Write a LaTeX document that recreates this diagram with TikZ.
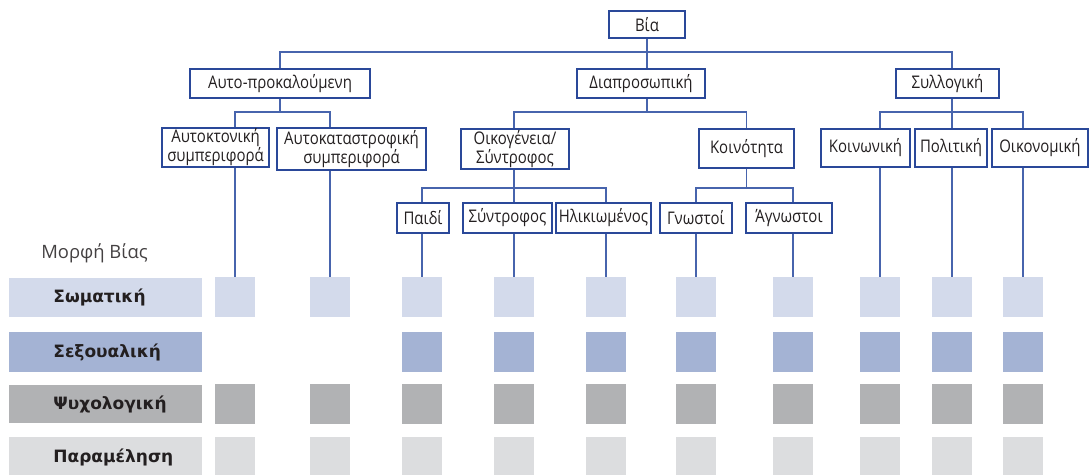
\documentclass[tikz,border=0pt]{standalone}
\usepackage{fontspec}
\setmainfont{Open Sans}[FakeStretch=0.86]
\newfontfamily\formfont{Open Sans}
\newfontfamily\rowfont{DejaVu Sans}

\begin{document}
\begin{tikzpicture}[x=0.5pt,y=-0.5pt,font=\fontsize{8.7}{9.5}\selectfont,
  box/.style={draw=boxline,line width=.7pt,fill=white,text=ink,inner xsep=1pt,inner ysep=0pt,align=center},
  link/.style={draw=stem,line width=.7pt},
  cell/.style={minimum width=20pt,minimum height=20pt,inner sep=0pt},
  bar/.style={minimum width=96.5pt,minimum height=20pt,inner sep=0pt},
  rowlab/.style={anchor=west,inner sep=0pt,text=ink,font=\rowfont\bfseries\fontsize{8.5}{10}\selectfont}]
\definecolor{ink}{HTML}{231F20}\definecolor{boxline}{HTML}{2A4899}
\definecolor{stem}{HTML}{4764AD}\definecolor{phys}{HTML}{D3DAEB}
\definecolor{sex}{HTML}{A4B3D4}\definecolor{psy}{HTML}{B1B2B4}
\definecolor{negl}{HTML}{DCDDDF}
\useasboundingbox (0,0) rectangle (1089,475);
\coordinate (bus0) at (0,52);
\coordinate (bus1) at (0,112);
\coordinate (bus2) at (0,188);
\foreach \i/\x in {1/235,2/330,3/422,4/514,5/606,6/696,7/793,8/880,9/952,10/1023}{
  \node[cell,fill=phys] (phys\i) at (\x,297.5) {};
  \node[cell,fill=psy] (psy\i) at (\x,404) {};
  \node[cell,fill=negl] (negl\i) at (\x,457.5) {};
}
\foreach \i/\x in {3/422,4/514,5/606,6/696,7/793,8/880,9/952,10/1023}
  \node[cell,fill=sex] (sex\i) at (\x,352) {};
\node[bar,fill=phys,minimum height=19.5pt] (physbar) at (105.5,297.5) {};
\node[bar,fill=sex] (sexbar) at (105.5,352) {};
\node[bar,fill=psy,minimum height=19pt] (psybar) at (105.5,404) {};
\node[bar,fill=negl] (neglbar) at (105.5,457.5) {};
\node[rowlab] (physlab) at (53,297.5) {Σωματική};
\node[rowlab] (sexlab) at (53,352) {Σεξουαλική};
\node[rowlab] (psylab) at (53,404) {Ψυχολογική};
\node[rowlab] (negllab) at (53,457.5) {Παραμέληση};
\node[text=ink!85,font=\formfont\fontsize{9.2}{11}\selectfont] (formlab) at (94.5,253) {Μορφή Βίας};
\node[box,minimum width=38pt,minimum height=13.5pt] (bia) at (647,24.5) {Βία};
\node[box,minimum width=90pt,minimum height=14.5pt] (self) at (280,83.5) {Αυτο-προκαλούμενη};
\node[box,minimum width=64pt,minimum height=14.5pt] (inter) at (641,83.5) {Διαπροσωπική};
\node[box,minimum width=51.5pt,minimum height=14.5pt] (coll) at (947.5,83.5) {Συλλογική};
\node[box,minimum width=53.5pt,minimum height=19.5pt] (kA) at (215.5,147.5) {Αυτοκτονική\\συμπεριφορά};
\node[box,minimum width=74.5pt,minimum height=21pt] (kB) at (351.5,149) {Αυτοκαταστροφική\\συμπεριφορά};
\node[box,minimum width=54pt,minimum height=20pt] (fam) at (515,149) {Οικογένεια/\\Σύντροφος};
\node[box,minimum width=47.5pt,minimum height=19.5pt] (com) at (746.5,148.5) {Κοινότητα};
\node[box,minimum width=44.5pt,minimum height=19pt] (soc) at (865.5,148) {Κοινωνική};
\node[box,minimum width=36pt,minimum height=19pt] (pol) at (951,148) {Πολιτική};
\node[box,minimum width=48pt,minimum height=19pt] (eco) at (1040,148) {Οικονομική};
\node[box,minimum width=26pt,minimum height=15pt] (child) at (423,218) {Παιδί};
\node[box,minimum width=44.5pt,minimum height=15pt] (part) at (507.5,218) {Σύντροφος};
\node[box,minimum width=47.5pt,minimum height=15pt] (eld) at (603.5,218) {Ηλικιωμένος};
\node[box,minimum width=36pt,minimum height=15pt] (known) at (696,218) {Γνωστοί};
\node[box,minimum width=43pt,minimum height=15pt] (unk) at (789,218) {Άγνωστοι};
\draw[link] (bia.south) -- (bia.south |- inter.north);
\draw[link] (self.north) |- (bus0 -| phys9) -- (phys9 |- coll.north);
\draw[link] (self.south) -- (self.south |- bus1);
\draw[link] (phys1 |- kA.north) |- (bus1 -| phys2) -- (phys2 |- kB.north);
\draw[link] (inter.south -| bia.south) -- (bus1 -| bia.south);
\draw[link] (fam.north -| phys4) |- (bus1 -| com) -- (com.north);
\draw[link] (coll.south -| phys9) -- (pol.north -| phys9);
\draw[link] (soc.north -| phys8) |- (bus1 -| phys10) -- (eco.north -| phys10);
\draw[link] (fam.south -| phys4) -- (part.north -| phys4);
\draw[link] (child.north -| phys3) |- (bus2 -| phys5) -- (eld.north -| phys5);
\draw[link] (com.south) -- (com.south |- bus2);
\draw[link] (known.north -| phys6) |- (bus2 -| phys7) -- (unk.north -| phys7);
\draw[link] (kA.south -| phys1) -- (phys1.north);
\draw[link] (kB.south -| phys2) -- (phys2.north);
\draw[link] (child.south -| phys3) -- (phys3.north);
\draw[link] (part.south -| phys4) -- (phys4.north);
\draw[link] (eld.south -| phys5) -- (phys5.north);
\draw[link] (known.south -| phys6) -- (phys6.north);
\draw[link] (unk.south -| phys7) -- (phys7.north);
\draw[link] (soc.south -| phys8) -- (phys8.north);
\draw[link] (pol.south -| phys9) -- (phys9.north);
\draw[link] (eco.south -| phys10) -- (phys10.north);
\end{tikzpicture}
\end{document}
